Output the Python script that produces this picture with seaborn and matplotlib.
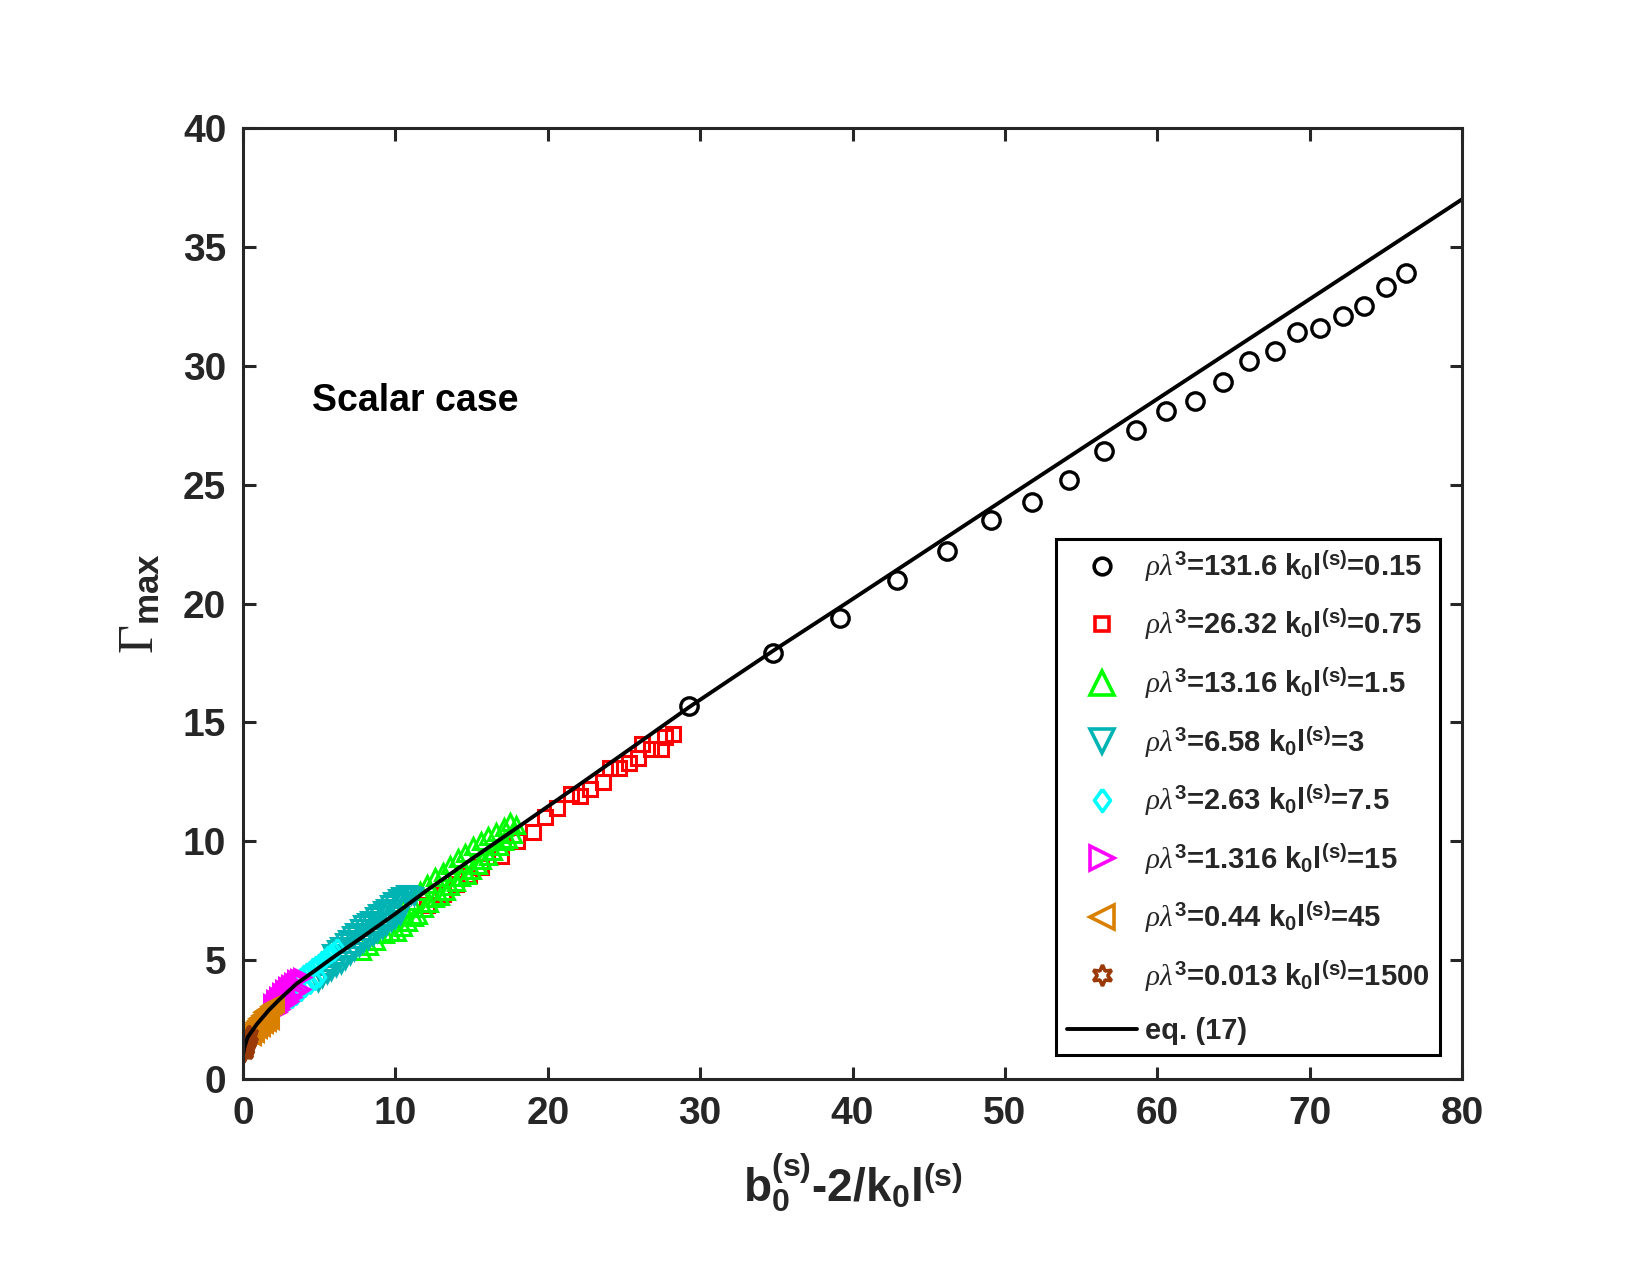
import numpy as np
import pandas as pd
import seaborn as sns
import matplotlib
matplotlib.use("Agg")
import matplotlib.pyplot as plt
from matplotlib.lines import Line2D

# ---------------- data ----------------
circ_x = [29.3, 34.8, 39.2, 42.9, 46.2, 49.1, 51.8, 54.2, 56.5, 58.6, 60.6,
          62.5, 64.3, 66.0, 67.7, 69.2, 70.7, 72.2, 73.6, 75.0, 76.3]
circ_y = [15.7, 17.9, 19.4, 21.0, 22.2, 23.5, 24.25, 25.2, 26.4, 27.3, 28.1,
          28.5, 29.3, 30.2, 30.6, 31.4, 31.6, 32.1, 32.5, 33.3, 33.9]

sq_x = [12.1, 13.1, 14.0, 14.8, 15.6, 16.9, 18.0, 19.0, 19.8, 20.6, 21.5, 22.1,
        22.8, 23.6, 24.1, 24.7, 25.3, 25.9, 26.2, 26.8, 27.4, 27.7, 28.2]
sq_y = [7.3, 7.8, 8.2, 8.6, 8.9, 9.4, 10.0, 10.4, 11.0, 11.4, 12.0, 11.9,
        12.2, 12.5, 13.1, 13.1, 13.3, 13.5, 14.1, 13.9, 13.9, 14.4, 14.5]

tri_up_x = [7.8, 8.3, 8.7, 9.3, 9.7, 10.1, 10.5, 10.8, 11.2, 11.5, 11.9, 12.2,
            12.6, 12.9, 13.3, 13.6, 14.0, 14.3, 14.7, 15.0, 15.4, 15.7, 16.1,
            16.4, 16.8, 17.1, 17.4, 17.7,
            10.5, 11.0, 11.6, 12.1, 12.6, 13.1, 13.6, 14.1, 14.6, 15.1, 15.6,
            16.1, 16.6, 17.1, 17.5, 17.9]
tri_up_y = [5.4, 5.6, 5.8, 6.1, 6.2, 6.2, 6.4, 6.6, 6.8, 6.9, 7.2, 7.4,
            7.6, 7.7, 7.9, 8.1, 8.3, 8.5, 8.6, 8.8, 9.0, 9.2, 9.4,
            9.6, 9.8, 10.0, 10.1, 10.3,
            7.2, 7.5, 7.9, 8.2, 8.5, 8.7, 9.0, 9.3, 9.5, 9.8, 10.0,
            10.2, 10.4, 10.6, 10.8, 10.7]

tri_dn_x = [5.8, 6.1, 6.3, 6.6, 6.8, 7.1, 7.3, 7.6, 7.8, 8.1, 8.3, 8.6, 8.8,
            9.1, 9.3, 9.6, 9.8, 10.1, 10.3, 10.6, 10.8, 11.0, 11.2,
            4.9, 5.2, 5.5, 5.8, 6.1, 6.4, 6.7, 7.0, 7.3, 7.6, 7.9, 8.2, 8.5,
            8.8, 9.1, 9.4, 9.7, 10.0, 10.3]
tri_dn_y = [5.3, 5.45, 5.6, 5.75, 5.9, 6.05, 6.2, 6.35, 6.5, 6.6, 6.7, 6.85,
            7.0, 7.1, 7.2, 7.35, 7.5, 7.6, 7.7, 7.8, 7.8, 7.75, 7.7,
            4.1, 4.25, 4.4, 4.55, 4.7, 4.85, 5.0, 5.2, 5.4, 5.55, 5.7, 5.85,
            6.0, 6.15, 6.3, 6.45, 6.6, 6.75, 6.9]

dia_x = [3.6, 3.8, 4.0, 4.2, 4.4, 4.6, 4.8, 5.0, 5.2, 5.4, 5.6, 5.8, 6.0, 6.2,
         2.6, 2.9, 3.2, 3.5, 3.8, 4.1, 4.4, 4.7, 5.0]
dia_y = [4.2, 4.3, 4.4, 4.5, 4.6, 4.7, 4.8, 4.9, 5.0, 5.1, 5.2, 5.3, 5.4, 5.5,
         3.2, 3.3, 3.4, 3.55, 3.7, 3.85, 4.0, 4.15, 4.3]

tri_r_x = [1.9, 2.1, 2.3, 2.5, 2.7, 2.9, 3.1, 3.3, 3.5, 3.7, 3.9,
           2.2, 2.4, 2.6, 2.8, 3.0, 3.2, 3.4, 3.6, 3.8]
tri_r_y = [3.2, 3.35, 3.5, 3.65, 3.8, 3.9, 4.0, 4.1, 4.2, 4.25, 4.3,
           2.8, 2.95, 3.1, 3.2, 3.3, 3.45, 3.6, 3.7, 3.8]

tri_l_x = [0.3, 0.4, 0.5, 0.6, 0.7, 0.8, 0.9, 1.0, 1.1, 1.2, 1.3, 1.4, 1.5,
           1.6, 1.7, 1.8, 1.9, 2.0, 2.1, 0.6, 0.8, 1.0, 1.2, 1.4, 1.6, 1.8]
tri_l_y = [1.9, 2.0, 2.1, 2.2, 2.3, 2.4, 2.5, 2.55, 2.6, 2.7, 2.8, 2.85, 2.9,
           2.95, 3.0, 3.05, 3.1, 3.15, 3.2, 1.8, 1.95, 2.1, 2.2, 2.3, 2.4, 2.5]

hex_x = [0.02, 0.04, 0.06, 0.08, 0.1, 0.12, 0.15, 0.17, 0.19, 0.21, 0.23,
         0.26, 0.28, 0.31, 0.33, 0.36, 0.38]
hex_y = [1.1, 1.15, 1.2, 1.25, 1.3, 1.35, 1.45, 1.5, 1.55, 1.55, 1.6,
         1.65, 1.7, 1.72, 1.75, 1.8, 1.85]

eq_x = [0, 0.1, 0.3, 0.9, 1.7, 2.4, 3.5, 4.7, 6.1, 7.9, 10, 12.1, 15, 18.4,
        22, 25, 29.3, 35, 39.8, 50, 60, 70, 80]
eq_y = [1.0, 1.35, 1.75, 2.3, 2.9, 3.35, 4.0, 4.55, 5.2, 6.0, 6.95, 7.95, 9.25,
        10.75, 12.35, 13.7, 15.65, 18.1, 20.1, 24.4, 28.6, 32.8, 37.0]

labels = [
    r"$\rho\lambda^{3}$=131.6 k$_0$l$^{(\mathrm{s})}$=0.15",
    r"$\rho\lambda^{3}$=26.32 k$_0$l$^{(\mathrm{s})}$=0.75",
    r"$\rho\lambda^{3}$=13.16 k$_0$l$^{(\mathrm{s})}$=1.5",
    r"$\rho\lambda^{3}$=6.58 k$_0$l$^{(\mathrm{s})}$=3",
    r"$\rho\lambda^{3}$=2.63 k$_0$l$^{(\mathrm{s})}$=7.5",
    r"$\rho\lambda^{3}$=1.316 k$_0$l$^{(\mathrm{s})}$=15",
    r"$\rho\lambda^{3}$=0.44 k$_0$l$^{(\mathrm{s})}$=45",
    r"$\rho\lambda^{3}$=0.013 k$_0$l$^{(\mathrm{s})}$=1500",
]
eq_label = "eq. (17)"

xticks = [0, 10, 20, 30, 40, 50, 60, 70, 80]
yticks = [0, 5, 10, 15, 20, 25, 30, 35, 40]

# ---------------- style ----------------
sns.set_theme(style="white")
plt.rcParams["font.family"] = ["Liberation Sans", "DejaVu Sans"]
plt.rcParams["mathtext.fontset"] = "custom"
plt.rcParams["mathtext.rm"] = "Liberation Sans:bold"
plt.rcParams["mathtext.bf"] = "Liberation Sans:bold"
plt.rcParams["mathtext.it"] = "Liberation Serif:italic"
plt.rcParams["mathtext.sf"] = "Liberation Serif"

axc = "#262626"

fig = plt.figure(figsize=(16.5, 12.75), dpi=100)
ax = fig.add_axes([243 / 1650, 1 - 1079 / 1275, 1219 / 1650, 951 / 1275])

hexagram = (6, 1, 0)
diamond = [(0, 1), (0.72, 0), (0, -1), (-0.72, 0), (0, 1)]

series = [
    (circ_x, circ_y, "o", "black", 12.5, 2.4),
    (sq_x, sq_y, "s", "#ff0000", 9.5, 2.2),
    (tri_up_x, tri_up_y, "^", "#00ff00", 12, 2.2),
    (tri_dn_x, tri_dn_y, "v", "#00b4b4", 12, 2.2),
    (dia_x, dia_y, diamond, "#00ffff", 13, 2.2),
    (tri_r_x, tri_r_y, ">", "#ff00ff", 12, 2.2),
    (tri_l_x, tri_l_y, "<", "#d98000", 12, 2.2),
    (hex_x, hex_y, hexagram, "#9a3a08", 14, 2.2),
]

for (xs, ys, mk, col, ms, mew) in series:
    df = pd.DataFrame({"x": xs, "y": ys})
    sns.lineplot(data=df, x="x", y="y", ax=ax, estimator=None, sort=False,
                 linestyle="none", marker=mk, markersize=ms,
                 markerfacecolor="none", markeredgecolor=col,
                 markeredgewidth=mew, color=col, legend=False)

eq_df = pd.DataFrame({"x": eq_x, "y": eq_y})
sns.lineplot(data=eq_df, x="x", y="y", ax=ax, estimator=None, sort=False,
             color="black", linewidth=2.8, legend=False)

ax.set_xlim(0, 80)
ax.set_ylim(0, 40)
ax.set_xticks(xticks)
ax.set_yticks(yticks)
ax.set_xticklabels([str(t) for t in xticks])
ax.set_yticklabels([str(t) for t in yticks])

for s in ax.spines.values():
    s.set_linewidth(2.2)
    s.set_color(axc)
    s.set_visible(True)
ax.tick_params(axis="both", which="both", direction="in", length=9, width=2.2,
               color=axc, top=True, right=True, bottom=True, left=True,
               labelsize=28, labelcolor=axc, pad=12)
for lab in ax.get_xticklabels() + ax.get_yticklabels():
    lab.set_fontweight("bold")

ax.set_xlabel(r"b$_0^{(\mathrm{s})}$-2/k$_0$l$^{(\mathrm{s})}$",
              fontsize=33, fontweight="bold", color=axc, labelpad=14)
ax.set_ylabel(r"$\mathsf{\Gamma}_{\mathbf{max}}$", fontsize=36, color=axc,
              labelpad=14)

ax.text(4.5, 28.5, "Scalar case", fontsize=27, fontweight="bold",
        color="black", va="center", ha="left")

# legend
leg_ms = [12, 10, 17, 17, 16, 17, 17, 15]
handles = []
for (xs, ys, mk, col, ms, mew), lms in zip(series, leg_ms):
    handles.append(Line2D([], [], linestyle="none", marker=mk, markersize=lms,
                          markerfacecolor="none", markeredgecolor=col,
                          markeredgewidth=2.6))
handles.append(Line2D([], [], color="black", linewidth=2.8))
leg = ax.legend(handles, labels + [eq_label], loc="lower right",
                bbox_to_anchor=(0.982, 0.025), borderaxespad=0,
                prop={"weight": "bold", "size": 21}, frameon=True,
                fancybox=False, framealpha=1, edgecolor="black",
                handlelength=2.4, handletextpad=0.3, labelspacing=0.8,
                borderpad=0.35)
leg.get_frame().set_linewidth(2.2)

fig.savefig("out.png", dpi=100, facecolor="white")
